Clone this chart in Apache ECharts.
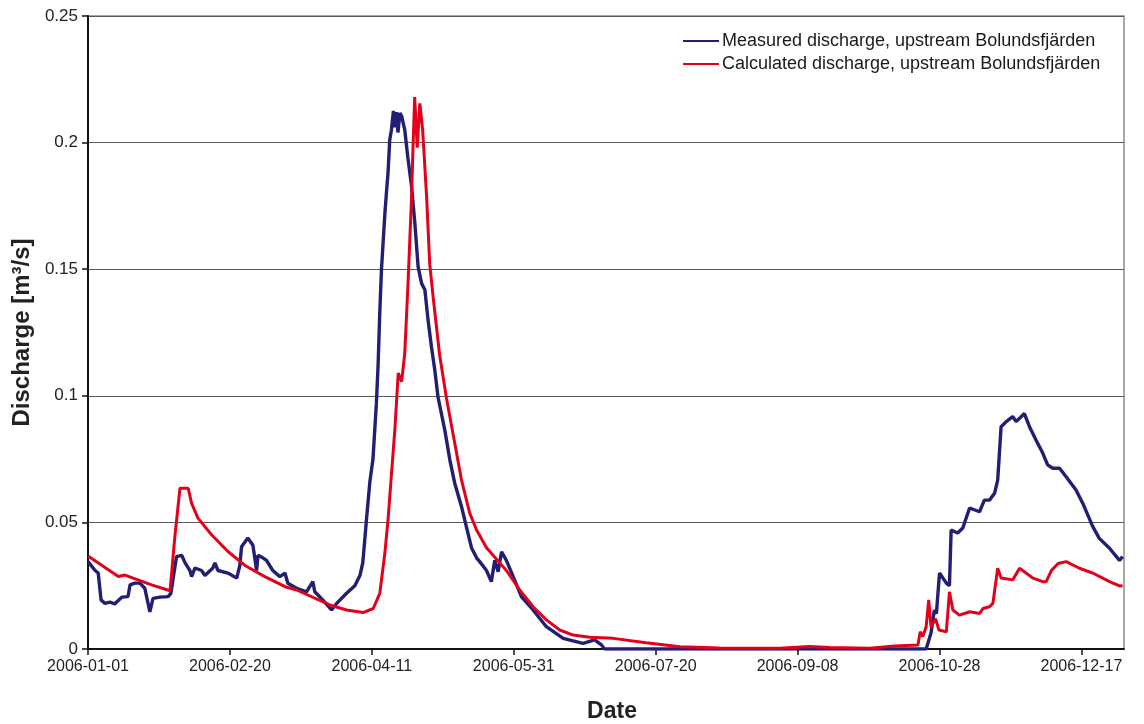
<!DOCTYPE html>
<html>
<head>
<meta charset="utf-8">
<title>Discharge upstream Bolundsfjärden</title>
<script src="https://cdn.jsdelivr.net/npm/echarts@6/dist/echarts.min.js"></script>
<style>
  html, body { margin: 0; padding: 0; background: #fff; }
  #chart { width: 1144px; height: 724px; }
</style>
</head>
<body>
<div id="chart"></div>
<script>
// Day offsets from 2006-01-01 and discharge (m³/s)
const measuredDays = [0, 2.5, 3.6, 4.6, 6, 7.7, 9.5, 10.2, 12, 14.1, 14.8, 16.5, 18.3, 20, 21.8, 22.9, 25.4, 28.2, 29.2, 31.2, 33, 34.2, 35.9, 36.5, 37.7, 40, 41.2, 44, 44.7, 45.8, 49.3, 52.4, 53.5, 54.1, 56.3, 58.1, 59.4, 59.9, 61.6, 62.9, 65.1, 67.6, 69.4, 70.4, 73.5, 77, 79.2, 79.9, 82.7, 85.8, 87.6, 91.1, 94, 95.8, 96.8, 97.5, 98.1, 99.3, 100.4, 101.6, 102.2, 102.8, 103.4, 104.6, 105.2, 105.7, 106.3, 106.9, 107.6, 108.1, 108.7, 109.2, 109.9, 110.5, 111.6, 112.7, 114, 115.1, 116.3, 117.5, 118.7, 119.8, 121, 122.2, 123.3, 124.5, 125.7, 127.5, 129.2, 131.6, 133.3, 135.1, 136.9, 138, 140.4, 142.1, 143.3, 144.5, 145.7, 147.4, 149.8, 152.7, 156.8, 161.5, 167.4, 174.4, 178.5, 180.9, 182, 295.3, 297, 298.2, 298.9, 300, 302.4, 303.5, 304.1, 306.4, 308.2, 310.6, 314.1, 315.8, 317.6, 319.4, 320.5, 321.7, 323.5, 325.8, 327, 328.2, 329.9, 331.7, 334, 336.4, 338.1, 339.9, 342.3, 344.6, 348.1, 350.5, 354, 356.3, 359.9, 363.4, 364.5];
const measuredQ = [0.0345, 0.031, 0.030, 0.0194, 0.018, 0.0185, 0.0178, 0.0187, 0.0205, 0.0207, 0.0253, 0.026, 0.026, 0.024, 0.0147, 0.020, 0.0205, 0.0207, 0.022, 0.0365, 0.037, 0.034, 0.031, 0.0286, 0.032, 0.031, 0.029, 0.032, 0.034, 0.031, 0.030, 0.028, 0.033, 0.0404, 0.0438, 0.041, 0.031, 0.037, 0.036, 0.035, 0.031, 0.0286, 0.030, 0.026, 0.024, 0.0226, 0.0266, 0.0226, 0.0194, 0.0154, 0.018, 0.022, 0.025, 0.029, 0.034, 0.043, 0.051, 0.066, 0.075, 0.097, 0.112, 0.133, 0.150, 0.172, 0.181, 0.188, 0.201, 0.205, 0.2125, 0.206, 0.212, 0.204, 0.2117, 0.2105, 0.205, 0.194, 0.1826, 0.169, 0.151, 0.1445, 0.1418, 0.130, 0.1194, 0.110, 0.0996, 0.093, 0.0865, 0.0746, 0.0655, 0.0562, 0.0483, 0.040, 0.036, 0.0345, 0.031, 0.0266, 0.035, 0.0305, 0.0384, 0.035, 0.0286, 0.0207, 0.0154, 0.0088, 0.0042, 0.0022, 0.0036, 0.0016, 0, 0, 0.0063, 0.0154, 0.014, 0.030, 0.026, 0.025, 0.047, 0.0458, 0.0478, 0.0557, 0.0542, 0.0588, 0.0588, 0.0615, 0.0667, 0.0878, 0.0898, 0.0918, 0.0898, 0.0911, 0.093, 0.0878, 0.0825, 0.0773, 0.0727, 0.0714, 0.0714, 0.068, 0.0628, 0.0575, 0.0483, 0.0437, 0.0398, 0.035, 0.0365];

const calculatedDays = [0, 10.7, 13, 22.4, 28.9, 30.6, 32.4, 35.3, 36.5, 38.8, 43.6, 49.4, 55.3, 62.3, 69.4, 73.5, 85.2, 91.1, 96.9, 100.5, 102.8, 104.6, 105.7, 108.1, 109.3, 110.5, 111.6, 112.8, 114, 114.5, 115.1, 116, 116.9, 117.9, 119.3, 120.4, 121.6, 123.9, 126.3, 128.6, 131.6, 134.5, 136.9, 140.4, 142.7, 147.4, 152.1, 156.8, 161.5, 166.2, 170.9, 176.8, 185, 196.7, 208.5, 222.5, 243.7, 254.2, 261.3, 275.4, 284.2, 292.4, 293.2, 294.1, 295.3, 296.2, 297, 298.6, 299.8, 302.4, 303.5, 304.7, 307, 310.6, 314.1, 315.3, 317.6, 318.8, 320.5, 321.7, 325.8, 328.2, 332.9, 336.4, 337.6, 339.4, 341.8, 344.6, 349.3, 354, 359.9, 363.4, 364.5];
const calculatedQ = [0.0367, 0.0286, 0.0292, 0.0253, 0.023, 0.0444, 0.0635, 0.0635, 0.0575, 0.0516, 0.045, 0.0384, 0.033, 0.0286, 0.0246, 0.0233, 0.0174, 0.0154, 0.0144, 0.016, 0.022, 0.038, 0.051, 0.0865, 0.109, 0.1056, 0.1168, 0.1457, 0.1786, 0.198, 0.218, 0.198, 0.2155, 0.205, 0.1786, 0.152, 0.139, 0.116, 0.099, 0.085, 0.0667, 0.0536, 0.047, 0.040, 0.037, 0.031, 0.0233, 0.0167, 0.0115, 0.0075, 0.0055, 0.0046, 0.0042, 0.0025, 0.0009, 0.0004, 0.0003, 0.0010, 0.0006, 0.0003, 0.0012, 0.0016, 0.0068, 0.0049, 0.0088, 0.0194, 0.0088, 0.012, 0.0075, 0.0068, 0.0226, 0.0154, 0.0134, 0.0147, 0.014, 0.016, 0.0167, 0.018, 0.0319, 0.028, 0.0273, 0.0319, 0.028, 0.0266, 0.0266, 0.031, 0.0338, 0.0345, 0.0319, 0.030, 0.0266, 0.0249, 0.025];

const dateTicks = ['2006-01-01', '2006-02-20', '2006-04-11', '2006-05-31', '2006-07-20', '2006-09-08', '2006-10-28', '2006-12-17'];
const seriesNames = ['Measured discharge, upstream Bolundsfjärden', 'Calculated discharge, upstream Bolundsfjärden'];

const zip = (xs, ys) => xs.map((x, i) => [x, ys[i]]);
const FONT = '"Liberation Sans", Arial, sans-serif';

const chart = echarts.init(document.getElementById('chart'), null, { renderer: 'canvas' });
chart.setOption({
  animation: false,
  backgroundColor: '#ffffff',
  textStyle: { fontFamily: FONT },
  grid: {
    left: 88, right: 20, top: 16, bottom: 75,
    outerBoundsMode: 'none',
    containLabel: false,
    show: true, borderColor: '#8a8a8a', borderWidth: 1.5
  },
  legend: {
    orient: 'vertical',
    left: 683, top: 32,
    padding: 0,
    itemGap: 5,
    itemWidth: 36, itemHeight: 2,
    icon: 'rect',
    textStyle: { fontFamily: FONT, fontSize: 18, lineHeight: 18, color: '#1a1a1a', padding: [0, 0, 0, -2] },
    data: seriesNames
  },
  xAxis: {
    type: 'value',
    min: 0, max: 365, interval: 50,
    name: 'Date',
    nameLocation: 'middle',
    nameGap: 51,
    nameTextStyle: { fontFamily: FONT, fontSize: 23, fontWeight: 'bold', color: '#222', padding: [0, 0, 0, 12] },
    axisLine: { show: true, onZero: false, lineStyle: { color: '#111', width: 2 } },
    axisTick: { show: true, length: 6, lineStyle: { color: '#111', width: 1.5 } },
    axisLabel: {
      fontFamily: FONT, fontSize: 16, color: '#222', margin: 10,
      showMaxLabel: false,
      formatter: v => dateTicks[Math.round(v / 50)] || ''
    },
    splitLine: { show: false }
  },
  yAxis: {
    type: 'value',
    min: 0, max: 0.25, interval: 0.05,
    name: 'Discharge [m³/s]',
    nameLocation: 'middle',
    nameGap: 53,
    nameTextStyle: { fontFamily: FONT, fontSize: 24, fontWeight: 'bold', color: '#222' },
    axisLine: { show: true, lineStyle: { color: '#111', width: 2 } },
    axisTick: { show: true, length: 6, lineStyle: { color: '#111', width: 1.5 } },
    axisLabel: { fontFamily: FONT, fontSize: 17, color: '#222', margin: 10 },
    splitLine: { show: true, lineStyle: { color: '#5a5a5a', width: 1.2 } }
  },
  series: [
    {
      name: seriesNames[0],
      type: 'line',
      data: zip(measuredDays, measuredQ),
      showSymbol: false,
      color: '#221f73',
      lineStyle: { color: '#221f73', width: 3.4 },
      z: 2
    },
    {
      name: seriesNames[1],
      type: 'line',
      data: zip(calculatedDays, calculatedQ),
      showSymbol: false,
      color: '#e3001b',
      lineStyle: { color: '#e3001b', width: 3 },
      z: 3
    }
  ]
});
</script>
</body>
</html>
